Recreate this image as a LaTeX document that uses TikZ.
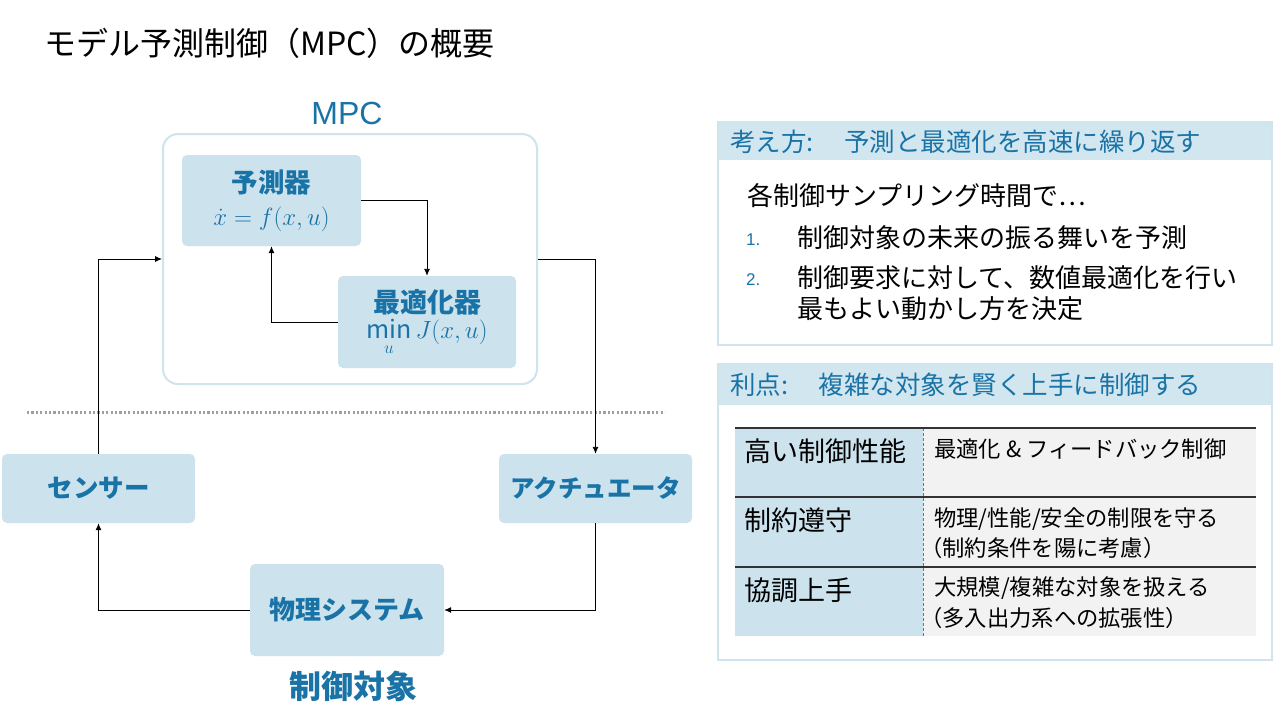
\documentclass[tikz,border=0pt]{standalone}
\usepackage{fontspec}
\setmainfont{Noto Sans CJK JP}
\newfontfamily\lat{Liberation Sans}
\usetikzlibrary{arrows.meta}
\definecolor{mblue}{HTML}{1A73A6}
\definecolor{bfill}{HTML}{CCE3EE}
\definecolor{bline}{HTML}{CFE4EC}
\definecolor{tgray}{HTML}{F2F2F2}
\definecolor{hdr}{HTML}{D2E6EF}
\definecolor{dred}{HTML}{C0504D}
\begin{document}
\begin{tikzpicture}[x=1pt,y=-1pt,
  blk/.style={fill=bfill, rounded corners=5pt, text=mblue, align=center,
    font=\bfseries\fontsize{25}{29}\selectfont, inner sep=0pt},
  arr/.style={-{Latex[length=7pt,width=6pt]}, line width=0.9pt, black},
  hd/.style={text=mblue, font=\fontsize{25.5}{29}\selectfont, anchor=west, inner sep=0pt},
  bd/.style={text=black, font=\fontsize{26}{30}\selectfont, anchor=west, inner sep=0pt},
  num/.style={text=mblue, font=\lat\fontsize{17}{20}\selectfont, anchor=west, inner sep=0pt},
  tl/.style={text=black, font=\fontsize{27}{31}\selectfont, anchor=west, inner sep=0pt},
  tr/.style={text=black, font=\fontsize{22.3}{26}\selectfont, anchor=west, inner sep=0pt, align=left}
]
\useasboundingbox (0,0) rectangle (1280,720);
\fill[white] (0,0) rectangle (1280,720);

% title
\node[anchor=west, inner sep=0pt, font=\fontsize{32}{36}\selectfont] (title) at (44,43) {モデル予測制御（MPC）の概要};

% MPC block
\node[text=mblue, font=\lat\fontsize{32}{34}\selectfont, inner sep=0pt] (mpclab) at (347,113) {MPC};
\node[draw=bline, line width=2pt, rounded corners=15pt, minimum width=374pt, minimum height=250pt, inner sep=0pt] (mpc) at (350,259) {};
\node[blk, font=\bfseries\fontsize{26.5}{30}\selectfont, minimum width=179pt, minimum height=91pt] (pred) at (271.5,200.5)
  {予測器\\[3pt]{\fontsize{28}{30}\selectfont$\dot{x}=f(x,u)$}};
\node[blk, font=\bfseries\fontsize{27}{30}\selectfont, minimum width=178pt, minimum height=92pt] (opt) at (427,322)
  {最適化器\\[-4pt]{\fontsize{25}{28}\selectfont$\displaystyle\min\limits_{\rule{0pt}{14pt}u} J(x,u)$}};

\draw[arr] (pred.east) -| (opt.north);
\draw[arr] (opt.west) -| (pred.south);

% separator
\draw[gray!75, line width=3pt, dash pattern=on 2.2pt off 2.2pt] (27,412) -- (665,412);

% plant side
\node[blk, font=\bfseries\fontsize{25.5}{29}\selectfont, minimum width=193pt, minimum height=69pt] (sensor) at (98.5,488.5) {センサー};
\node[blk, font=\bfseries\fontsize{24.5}{29}\selectfont, minimum width=193pt, minimum height=69pt] (act) at (595.5,488.5) {アクチュエータ};
\node[blk, font=\bfseries\fontsize{26}{29}\selectfont, minimum width=194pt, minimum height=92pt] (phys) at (347,610) {物理システム};
\node[text=mblue, font=\bfseries\fontsize{32}{36}\selectfont, inner sep=0pt] (plantlab) at (353,686) {制御対象};

\draw[arr] (mpc.east) -| (act.north);
\draw[arr] (act.south) |- (phys.east);
\draw[arr] (phys.west) -| (sensor.south);
\draw[arr] (sensor.north) |- (mpc.west);

% panel 1
\fill[hdr] (718,122) rectangle (1272,160);
\draw[bline, line width=2pt] (718,122) rectangle (1272,345);
\node[hd] (h1) at (730,142) {考え方:\hspace{1.2em}予測と最適化を高速に繰り返す};
\node[bd] (b0) at (747,196) {各制御サンプリング時間で…};
\node[num] (n1) at (746,240) {1.};
\node[bd] (b1) at (797,238) {制御対象の未来の振る舞いを予測};
\node[num] (n2) at (746,280) {2.};
\node[bd] (b2) at (797,278) {制御要求に対して、数値最適化を行い};
\node[bd] (b3) at (797,309) {最もよい動かし方を決定};

% panel 2
\fill[hdr] (718,364) rectangle (1272,405);
\draw[bline, line width=2pt] (718,364) rectangle (1272,660);
\node[hd] (h2) at (730,385) {利点:\hspace{1.2em}複雑な対象を賢く上手に制御する};

\fill[bfill] (735,428) rectangle (923,636);
\fill[tgray] (923,428) rectangle (1256,636);
\draw[dred, line width=0.7pt, dash pattern=on 3pt off 2pt] (923,428) -- (923,636);
\foreach \yy in {428,497,567} \draw[black!80, line width=1.6pt] (735,\yy) -- (1256,\yy);

\node[tl] (l1) at (744,451) {高い制御性能};
\node[tr] (r1) at (934,449) {最適化 \& フィードバック制御};
\node[tl] (l2) at (744,520) {制約遵守};
\node[tr] (r2a) at (934,519) {物理/性能/安全の制限を守る};
\node[tr] (r2b) at (920,548) {（制約条件を陽に考慮）};
\node[tl] (l3) at (744,590) {協調上手};
\node[tr] (r3a) at (934,588) {大規模/複雑な対象を扱える};
\node[tr] (r3b) at (920,618) {（多入出力系への拡張性）};
\end{tikzpicture}
\end{document}
